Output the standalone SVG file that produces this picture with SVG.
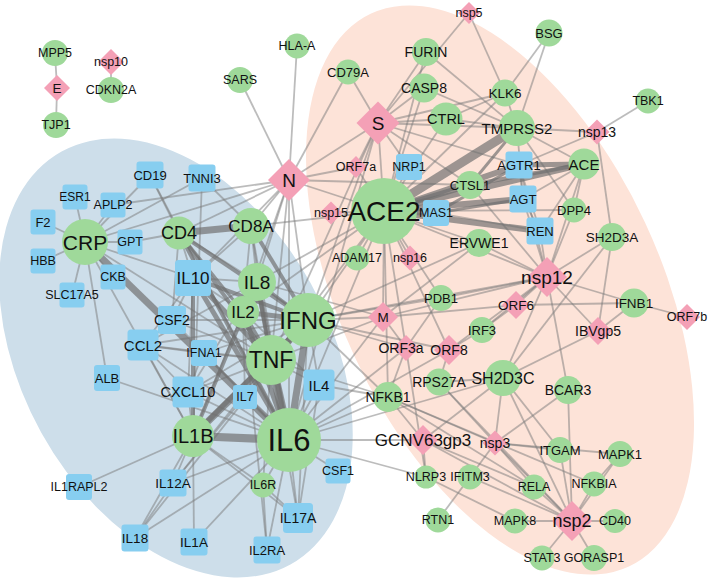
<svg xmlns="http://www.w3.org/2000/svg" width="708" height="579" viewBox="0 0 708 579">
<style>
.c{fill:#9fd99a}
.d{fill:#f4a0b6}
.b{fill:#87cef0}
text{font-family:"Liberation Sans",Arial,sans-serif;fill:#111;text-anchor:middle;dominant-baseline:central}
.e path{stroke:#7a7a7a;stroke-opacity:0.5;stroke-width:1.8;fill:none}
.w path{stroke:#6e6e6e;stroke-opacity:0.68;fill:none}
</style>
<rect width="708" height="579" fill="#fff"/>
<g id="clusters">
<ellipse cx="176" cy="358" rx="236" ry="154" transform="rotate(61 176 358)" fill="#cddeea"/>
<ellipse cx="500" cy="290" rx="305" ry="160" transform="rotate(65 500 290)" fill="#fde3d8"/>
</g>
<g id="connectors">
<g class="e">
<path d="M55 53L57 88"/><path d="M57 88L56 125"/><path d="M111 62L111 90"/>
<path d="M289 180L240 80"/><path d="M289 180L297 46"/><path d="M289 180L348 72"/><path d="M289 180L378 123"/><path d="M289 180L384 211"/><path d="M289 180L356 167"/><path d="M289 180L251 226"/><path d="M289 180L179 233"/><path d="M289 180L257 282"/><path d="M289 180L308 320"/><path d="M289 180L289 440"/><path d="M289 180L271 360"/><path d="M289 180L85 242"/><path d="M289 180L113 205"/><path d="M289 180L193 278"/><path d="M289 180L243 312"/><path d="M289 180L470 185"/>
<path d="M378 123L348 72"/><path d="M378 123L424 88"/><path d="M378 123L426 52"/><path d="M378 123L446 119"/><path d="M378 123L517 128"/><path d="M378 123L384 211"/><path d="M378 123L505 93"/><path d="M378 123L469 13"/><path d="M378 123L409 167"/><path d="M378 123L356 167"/><path d="M378 123L470 185"/><path d="M378 123L519 165"/><path d="M378 123L289 440"/><path d="M378 123L308 320"/><path d="M378 123L271 360"/>
<path d="M424 88L384 211"/><path d="M424 88L517 128"/><path d="M426 52L384 211"/><path d="M426 52L517 128"/><path d="M446 119L384 211"/><path d="M446 119L517 128"/><path d="M446 119L505 93"/><path d="M505 93L549 33"/><path d="M505 93L469 13"/><path d="M505 93L517 128"/><path d="M505 93L384 211"/><path d="M549 33L517 128"/><path d="M648 101L597 132"/><path d="M597 132L517 128"/><path d="M597 132L519 165"/><path d="M597 132L612 237"/><path d="M517 128L584 164"/><path d="M517 128L574 210"/><path d="M517 128L523 199"/>
<path d="M384 211L409 167" stroke-width="3"/><path d="M384 211L356 167"/><path d="M384 211L331 213"/><path d="M384 211L410 258"/><path d="M384 211L357 258"/><path d="M384 211L574 210"/><path d="M384 211L479 243"/><path d="M384 211L547 277"/><path d="M384 211L383 317"/><path d="M384 211L441 298"/><path d="M384 211L449 350"/><path d="M384 211L406 348"/><path d="M384 211L289 440"/><path d="M384 211L271 360"/><path d="M384 211L308 320"/><path d="M384 211L257 282"/><path d="M384 211L251 226"/><path d="M384 211L243 312"/><path d="M384 211L388 397"/>
<path d="M584 164L574 210"/><path d="M584 164L547 277"/><path d="M584 164L540 231" stroke-width="3"/><path d="M584 164L523 199" stroke-width="3"/><path d="M519 165L523 199"/><path d="M519 165L540 231"/><path d="M519 165L547 277"/><path d="M523 199L540 231"/><path d="M523 199L547 277"/><path d="M540 231L547 277"/><path d="M574 210L547 277"/><path d="M612 237L547 277"/><path d="M612 237L598 331"/><path d="M612 237L503 378"/><path d="M470 185L547 277"/><path d="M479 243L547 277"/><path d="M479 243L383 317"/><path d="M479 243L308 320"/><path d="M436 213L540 231"/>
<path d="M547 277L516 305"/><path d="M547 277L482 330"/><path d="M547 277L503 378"/><path d="M547 277L568 390"/><path d="M547 277L598 331"/><path d="M547 277L634 303"/><path d="M547 277L383 317"/><path d="M547 277L441 298"/><path d="M547 277L449 350"/><path d="M547 277L308 320"/>
<path d="M516 305L482 330"/><path d="M516 305L634 303"/><path d="M516 305L383 317"/><path d="M634 303L687 317"/><path d="M634 303L598 331"/><path d="M598 331L503 378"/><path d="M482 330L449 350"/>
<path d="M383 317L308 320"/><path d="M383 317L289 440"/><path d="M383 317L271 360"/><path d="M383 317L257 282"/><path d="M383 317L406 348"/><path d="M441 298L406 348"/><path d="M441 298L308 320"/><path d="M406 348L308 320"/><path d="M406 348L426 477"/><path d="M406 348L388 397"/><path d="M406 348L289 440"/><path d="M449 350L308 320"/><path d="M449 350L439 382"/><path d="M449 350L289 440"/>
<path d="M439 382L495 443"/><path d="M439 382L572 521"/><path d="M439 382L503 378"/><path d="M503 378L495 443"/><path d="M503 378L572 521"/><path d="M503 378L560 450"/><path d="M503 378L423 440"/><path d="M503 378L289 440"/><path d="M568 390L495 443"/><path d="M568 390L572 521"/>
<path d="M388 397L289 440"/><path d="M388 397L271 360"/><path d="M388 397L308 320"/><path d="M388 397L319 385"/><path d="M388 397L495 443"/><path d="M388 397L534 487"/><path d="M388 397L423 440"/><path d="M388 397L594 484"/>
<path d="M423 440L289 440"/><path d="M423 440L426 477"/><path d="M423 440L572 521"/><path d="M423 440L534 487"/>
<path d="M495 443L560 450"/><path d="M495 443L572 521"/><path d="M495 443L534 487"/><path d="M495 443L470 477"/><path d="M495 443L620 454"/>
<path d="M426 477L289 440"/><path d="M426 477L515 521"/><path d="M470 477L438 520"/><path d="M470 477L572 521"/>
<path d="M534 487L572 521"/><path d="M594 484L572 521" stroke-width="3"/><path d="M620 454L572 521"/><path d="M515 521L572 521"/><path d="M615 521L572 521"/><path d="M542 558L572 521"/><path d="M594 558L572 521"/><path d="M560 450L572 521"/><path d="M620 454L594 484"/>
<path d="M85 242L75 197"/><path d="M85 242L113 205"/><path d="M85 242L43 222"/><path d="M85 242L43 261"/><path d="M85 242L130 242"/><path d="M85 242L113 277"/><path d="M85 242L72 295"/><path d="M85 242L107 378" stroke-width="3"/><path d="M85 242L202 178"/><path d="M85 242L150 175"/><path d="M85 242L193 436" stroke-width="3"/><path d="M85 242L271 360" stroke-width="3"/><path d="M85 242L193 278"/>
<path d="M130 242L179 233"/><path d="M150 175L179 233"/><path d="M150 175L289 440"/><path d="M202 178L193 436"/><path d="M202 178L251 226"/>
<path d="M179 233L193 278"/><path d="M179 233L257 282"/><path d="M179 233L172 320"/><path d="M251 226L257 282"/><path d="M251 226L243 312"/><path d="M251 226L271 360" stroke-width="3"/><path d="M251 226L289 440" stroke-width="2.5"/><path d="M251 226L193 278"/>
<path d="M193 278L257 282"/><path d="M193 278L243 312"/><path d="M193 278L172 320"/><path d="M193 278L143 345"/><path d="M193 278L188 392"/><path d="M257 282L243 312"/><path d="M257 282L143 345"/><path d="M257 282L188 392"/>
<path d="M243 312L319 385"/><path d="M243 312L193 436"/><path d="M243 312L245 397"/><path d="M243 312L267 550"/>
<path d="M308 320L319 385" stroke-width="3"/><path d="M308 320L188 392" stroke-width="3"/><path d="M308 320L143 345"/><path d="M308 320L172 320"/><path d="M308 320L173 483"/><path d="M308 320L135 538"/><path d="M308 320L298 518"/><path d="M308 320L203 353"/>
<path d="M271 360L319 385"/><path d="M271 360L143 345" stroke-width="3"/><path d="M271 360L188 392"/><path d="M271 360L245 397"/><path d="M271 360L298 518"/><path d="M271 360L263 485"/><path d="M271 360L172 320" stroke-width="3"/><path d="M271 360L203 353"/><path d="M271 360L173 483"/>
<path d="M193 436L79 487"/><path d="M193 436L173 483"/><path d="M193 436L194 542"/><path d="M193 436L135 538"/><path d="M193 436L188 392" stroke-width="3"/><path d="M193 436L143 345" stroke-width="3"/><path d="M193 436L298 518"/><path d="M193 436L263 485"/>
<path d="M289 440L263 485"/><path d="M289 440L298 518" stroke-width="3"/><path d="M289 440L267 550" stroke-width="3"/><path d="M289 440L338 471"/><path d="M289 440L319 385" stroke-width="3"/><path d="M289 440L245 397"/><path d="M289 440L173 483"/><path d="M289 440L135 538"/><path d="M289 440L194 542"/><path d="M289 440L143 345" stroke-width="3"/><path d="M289 440L188 392" stroke-width="3"/><path d="M289 440L172 320" stroke-width="3"/><path d="M289 440L203 353"/><path d="M289 440L107 378"/>
<path d="M263 485L298 518"/><path d="M263 485L267 550"/><path d="M173 483L135 538"/><path d="M143 345L188 392"/><path d="M143 345L203 353"/><path d="M172 320L143 345"/><path d="M203 353L188 392"/><path d="M319 385L298 518"/>
</g>
<g class="w">
<path d="M384 211L517 128" stroke-width="9"/><path d="M384 211L470 185" stroke-width="6"/><path d="M384 211L519 165" stroke-width="6"/><path d="M384 211L584 164" stroke-width="6"/><path d="M384 211L523 199" stroke-width="6"/><path d="M384 211L540 231" stroke-width="6"/><path d="M384 211L436 213" stroke-width="6"/>
<path d="M519 165L584 164" stroke-width="5"/><path d="M470 185L584 164" stroke-width="4"/><path d="M436 213L523 199" stroke-width="3"/><path d="M436 213L519 165" stroke-width="3"/><path d="M470 185L517 128" stroke-width="3"/>
<path d="M179 233L251 226" stroke-width="7"/><path d="M179 233L308 320" stroke-width="4"/><path d="M179 233L243 312" stroke-width="3"/><path d="M179 233L289 440" stroke-width="4"/><path d="M179 233L271 360" stroke-width="4"/><path d="M251 226L308 320" stroke-width="4"/>
<path d="M193 278L289 440" stroke-width="5"/><path d="M193 278L271 360" stroke-width="5"/><path d="M193 278L308 320" stroke-width="4"/><path d="M193 278L193 436" stroke-width="4"/>
<path d="M257 282L289 440" stroke-width="5"/><path d="M257 282L271 360" stroke-width="4"/><path d="M257 282L193 436" stroke-width="4"/><path d="M257 282L308 320" stroke-width="3"/>
<path d="M243 312L308 320" stroke-width="5"/><path d="M243 312L289 440" stroke-width="5"/><path d="M243 312L271 360" stroke-width="4"/>
<path d="M308 320L271 360" stroke-width="7"/><path d="M308 320L289 440" stroke-width="7"/><path d="M308 320L193 436" stroke-width="5"/><path d="M271 360L289 440" stroke-width="9"/><path d="M271 360L193 436" stroke-width="7"/><path d="M193 436L289 440" stroke-width="8"/><path d="M85 242L289 440" stroke-width="7"/>
</g>
</g>
<g id="nodes">
<g id="n-MPP5" transform="translate(55,53)"><circle class="c" r="13"/><text font-size="12.5">MPP5</text></g>
<g id="n-E" transform="translate(57,88)"><polygon class="d" points="0,-13 13,0 0,13 -13,0"/><text font-size="13.5">E</text></g>
<g id="n-TJP1" transform="translate(56,125)"><circle class="c" r="13"/><text font-size="12.5">TJP1</text></g>
<g id="n-nsp10" transform="translate(111,62)"><polygon class="d" points="0,-13 13,0 0,13 -13,0"/><text font-size="12.5">nsp10</text></g>
<g id="n-CDKN2A" transform="translate(111,90)"><circle class="c" r="13"/><text font-size="12.5">CDKN2A</text></g>
<g id="n-SARS" transform="translate(240,80)"><circle class="c" r="13"/><text font-size="12.5">SARS</text></g>
<g id="n-HLA-A" transform="translate(297,46)"><circle class="c" r="12.5"/><text font-size="12.5">HLA-A</text></g>
<g id="n-CD79A" transform="translate(348,72)"><circle class="c" r="12.5"/><text font-size="13">CD79A</text></g>
<g id="n-FURIN" transform="translate(426,52)"><circle class="c" r="14"/><text font-size="14">FURIN</text></g>
<g id="n-CASP8" transform="translate(424,88)"><circle class="c" r="14.5"/><text font-size="14">CASP8</text></g>
<g id="n-S" transform="translate(378,123)"><polygon class="d" points="0,-21.5 21.5,0 0,21.5 -21.5,0"/><text font-size="19">S</text></g>
<g id="n-CTRL" transform="translate(446,119)"><circle class="c" r="16.5"/><text font-size="14.5">CTRL</text></g>
<g id="n-nsp5" transform="translate(469,13)"><polygon class="d" points="0,-11 11,0 0,11 -11,0"/><text font-size="12.5">nsp5</text></g>
<g id="n-BSG" transform="translate(549,33)"><circle class="c" r="13.5"/><text font-size="13">BSG</text></g>
<g id="n-KLK6" transform="translate(505,93)"><circle class="c" r="13.5"/><text font-size="13.5">KLK6</text></g>
<g id="n-TMPRSS2" transform="translate(517,128)"><circle class="c" r="18"/><text font-size="15">TMPRSS2</text></g>
<g id="n-TBK1" transform="translate(648,101)"><circle class="c" r="12.5"/><text font-size="12.5">TBK1</text></g>
<g id="n-nsp13" transform="translate(597,132)"><polygon class="d" points="0,-12.5 12.5,0 0,12.5 -12.5,0"/><text font-size="14">nsp13</text></g>
<g id="n-N" transform="translate(289,180)"><polygon class="d" points="0,-21 21,0 0,21 -21,0"/><text font-size="19">N</text></g>
<g id="n-ORF7a" transform="translate(356,167)"><polygon class="d" points="0,-11 11,0 0,11 -11,0"/><text font-size="12.5">ORF7a</text></g>
<g id="n-NRP1" transform="translate(409,167)"><rect class="b" x="-13" y="-13" width="26" height="26" rx="3"/><text font-size="12.5">NRP1</text></g>
<g id="n-ACE2" transform="translate(384,211)"><circle class="c" r="33"/><text font-size="28">ACE2</text></g>
<g id="n-nsp15" transform="translate(331,213)"><polygon class="d" points="0,-11.5 11.5,0 0,11.5 -11.5,0"/><text font-size="12.5">nsp15</text></g>
<g id="n-MAS1" transform="translate(436,213)"><rect class="b" x="-13" y="-13" width="26" height="26" rx="3"/><text font-size="12.5">MAS1</text></g>
<g id="n-CTSL1" transform="translate(470,185)"><circle class="c" r="14"/><text font-size="13">CTSL1</text></g>
<g id="n-AGTR1" transform="translate(519,165)"><rect class="b" x="-13.5" y="-13.5" width="27" height="27" rx="3"/><text font-size="13">AGTR1</text></g>
<g id="n-ACE" transform="translate(584,164)"><circle class="c" r="15.5"/><text font-size="15">ACE</text></g>
<g id="n-AGT" transform="translate(523,199)"><rect class="b" x="-13.5" y="-13.5" width="27" height="27" rx="3"/><text font-size="13">AGT</text></g>
<g id="n-DPP4" transform="translate(574,210)"><circle class="c" r="12.5"/><text font-size="13">DPP4</text></g>
<g id="n-REN" transform="translate(540,231)"><rect class="b" x="-13.5" y="-13.5" width="27" height="27" rx="3"/><text font-size="13">REN</text></g>
<g id="n-SH2D3A" transform="translate(612,237)"><circle class="c" r="14"/><text font-size="13.5">SH2D3A</text></g>
<g id="n-ERVWE1" transform="translate(479,243)"><circle class="c" r="14"/><text font-size="14">ERVWE1</text></g>
<g id="n-ADAM17" transform="translate(357,258)"><circle class="c" r="12.5"/><text font-size="12.5">ADAM17</text></g>
<g id="n-nsp16" transform="translate(410,258)"><polygon class="d" points="0,-12.5 12.5,0 0,12.5 -12.5,0"/><text font-size="12.5">nsp16</text></g>
<g id="n-nsp12" transform="translate(547,277)"><polygon class="d" points="0,-20 20,0 0,20 -20,0"/><text font-size="19">nsp12</text></g>
<g id="n-CD19" transform="translate(150,175)"><rect class="b" x="-13.5" y="-13.5" width="27" height="27" rx="3"/><text font-size="13">CD19</text></g>
<g id="n-TNNI3" transform="translate(202,178)"><rect class="b" x="-13.5" y="-13.5" width="27" height="27" rx="3"/><text font-size="13">TNNI3</text></g>
<g id="n-ESR1" transform="translate(75,197)"><rect class="b" x="-12.5" y="-12.5" width="25" height="25" rx="3"/><text font-size="12">ESR1</text></g>
<g id="n-APLP2" transform="translate(113,205)"><rect class="b" x="-12.5" y="-12.5" width="25" height="25" rx="3"/><text font-size="12.5">APLP2</text></g>
<g id="n-F2" transform="translate(43,222)"><rect class="b" x="-12.5" y="-12.5" width="25" height="25" rx="3"/><text font-size="13">F2</text></g>
<g id="n-CRP" transform="translate(85,242)"><circle class="c" r="23"/><text font-size="21">CRP</text></g>
<g id="n-GPT" transform="translate(130,242)"><rect class="b" x="-12.5" y="-12.5" width="25" height="25" rx="3"/><text font-size="12.5">GPT</text></g>
<g id="n-CD4" transform="translate(179,233)"><circle class="c" r="16.5"/><text font-size="18">CD4</text></g>
<g id="n-CD8A" transform="translate(251,226)"><circle class="c" r="18"/><text font-size="17">CD8A</text></g>
<g id="n-HBB" transform="translate(43,261)"><rect class="b" x="-12.5" y="-12.5" width="25" height="25" rx="3"/><text font-size="12.5">HBB</text></g>
<g id="n-CKB" transform="translate(113,277)"><rect class="b" x="-12.5" y="-12.5" width="25" height="25" rx="3"/><text font-size="12.5">CKB</text></g>
<g id="n-IL10" transform="translate(193,278)"><rect class="b" x="-18" y="-18" width="36" height="36" rx="3.5"/><text font-size="17">IL10</text></g>
<g id="n-SLC17A5" transform="translate(72,295)"><rect class="b" x="-12.5" y="-12.5" width="25" height="25" rx="3"/><text font-size="12.5">SLC17A5</text></g>
<g id="n-IL8" transform="translate(257,282)"><circle class="c" r="19"/><text font-size="19">IL8</text></g>
<g id="n-IL2" transform="translate(243,312)"><circle class="c" r="16"/><text font-size="17">IL2</text></g>
<g id="n-CSF2" transform="translate(172,320)"><rect class="b" x="-14" y="-14" width="28" height="28" rx="3"/><text font-size="14">CSF2</text></g>
<g id="n-CCL2" transform="translate(143,345)"><rect class="b" x="-15.5" y="-15.5" width="31" height="31" rx="3.5"/><text font-size="15">CCL2</text></g>
<g id="n-IFNA1" transform="translate(204,353)"><rect class="b" x="-13" y="-13" width="26" height="26" rx="3"/><text font-size="12.5">IFNA1</text></g>
<g id="n-ALB" transform="translate(107,378)"><rect class="b" x="-13" y="-13" width="26" height="26" rx="3"/><text font-size="13">ALB</text></g>
<g id="n-CXCL10" transform="translate(188,392)"><rect class="b" x="-15.5" y="-15.5" width="31" height="31" rx="3.5"/><text font-size="14.5">CXCL10</text></g>
<g id="n-IL7" transform="translate(245,397)"><rect class="b" x="-12" y="-12" width="24" height="24" rx="3"/><text font-size="12.5">IL7</text></g>
<g id="n-IL4" transform="translate(319,385)"><rect class="b" x="-15.5" y="-15.5" width="31" height="31" rx="3.5"/><text font-size="15">IL4</text></g>
<g id="n-IFNG" transform="translate(308,320)"><circle class="c" r="27"/><text font-size="24">IFNG</text></g>
<g id="n-TNF" transform="translate(271,360)"><circle class="c" r="25"/><text font-size="23">TNF</text></g>
<g id="n-IL1B" transform="translate(193,436)"><circle class="c" r="21"/><text font-size="20">IL1B</text></g>
<g id="n-IL6" transform="translate(289,440)"><circle class="c" r="32"/><text font-size="31">IL6</text></g>
<g id="n-CSF1" transform="translate(338,471)"><rect class="b" x="-12.5" y="-12.5" width="25" height="25" rx="3"/><text font-size="12.5">CSF1</text></g>
<g id="n-IL6R" transform="translate(263,485)"><circle class="c" r="12.5"/><text font-size="12.5">IL6R</text></g>
<g id="n-IL1RAPL2" transform="translate(79,487)"><rect class="b" x="-13" y="-13" width="26" height="26" rx="3"/><text font-size="12.5">IL1RAPL2</text></g>
<g id="n-IL12A" transform="translate(173,483)"><rect class="b" x="-13.5" y="-13.5" width="27" height="27" rx="3"/><text font-size="13.5">IL12A</text></g>
<g id="n-IL17A" transform="translate(298,518)"><rect class="b" x="-15" y="-15" width="30" height="30" rx="3.5"/><text font-size="14">IL17A</text></g>
<g id="n-IL2RA" transform="translate(267,550)"><rect class="b" x="-13.5" y="-13.5" width="27" height="27" rx="3"/><text font-size="13">IL2RA</text></g>
<g id="n-IL18" transform="translate(135,538)"><rect class="b" x="-13.5" y="-13.5" width="27" height="27" rx="3"/><text font-size="13.5">IL18</text></g>
<g id="n-IL1A" transform="translate(194,542)"><rect class="b" x="-13.5" y="-13.5" width="27" height="27" rx="3"/><text font-size="13.5">IL1A</text></g>
<g id="n-M" transform="translate(383,317)"><polygon class="d" points="0,-15 15,0 0,15 -15,0"/><text font-size="13.5">M</text></g>
<g id="n-PDB1" transform="translate(441,298)"><circle class="c" r="13"/><text font-size="13">PDB1</text></g>
<g id="n-ORF6" transform="translate(516,305)"><polygon class="d" points="0,-14 14,0 0,14 -14,0"/><text font-size="13.5">ORF6</text></g>
<g id="n-IFNB1" transform="translate(634,303)"><circle class="c" r="14.5"/><text font-size="13.5">IFNB1</text></g>
<g id="n-ORF7b" transform="translate(687,317)"><polygon class="d" points="0,-13 13,0 0,13 -13,0"/><text font-size="12.5">ORF7b</text></g>
<g id="n-IRF3" transform="translate(482,330)"><circle class="c" r="13"/><text font-size="13">IRF3</text></g>
<g id="n-IBVgp5" transform="translate(598,331)"><polygon class="d" points="0,-14 14,0 0,14 -14,0"/><text font-size="14">IBVgp5</text></g>
<g id="n-ORF3a" transform="translate(406,348)"><polygon class="d" points="0,-13 13,0 0,13 -13,0"/><text x="-5" font-size="14">ORF3a</text></g>
<g id="n-ORF8" transform="translate(449,350)"><polygon class="d" points="0,-15 15,0 0,15 -15,0"/><text font-size="14">ORF8</text></g>
<g id="n-RPS27A" transform="translate(439,382)"><circle class="c" r="13.5"/><text font-size="14">RPS27A</text></g>
<g id="n-SH2D3C" transform="translate(503,378)"><circle class="c" r="18"/><text font-size="16">SH2D3C</text></g>
<g id="n-BCAR3" transform="translate(568,390)"><circle class="c" r="14"/><text font-size="14">BCAR3</text></g>
<g id="n-NFKB1" transform="translate(388,397)"><circle class="c" r="15"/><text font-size="14">NFKB1</text></g>
<g id="n-GCNV63gp3" transform="translate(423,440)"><polygon class="d" points="0,-15 15,0 0,15 -15,0"/><text font-size="17">GCNV63gp3</text></g>
<g id="n-nsp3" transform="translate(495,443)"><polygon class="d" points="0,-12.5 12.5,0 0,12.5 -12.5,0"/><text font-size="14">nsp3</text></g>
<g id="n-ITGAM" transform="translate(560,450)"><circle class="c" r="13"/><text font-size="13">ITGAM</text></g>
<g id="n-MAPK1" transform="translate(620,454)"><circle class="c" r="13"/><text font-size="13">MAPK1</text></g>
<g id="n-NLRP3" transform="translate(426,477)"><circle class="c" r="11.5"/><text font-size="12.5">NLRP3</text></g>
<g id="n-IFITM3" transform="translate(470,477)"><circle class="c" r="12.5"/><text font-size="12.5">IFITM3</text></g>
<g id="n-RELA" transform="translate(534,487)"><circle class="c" r="12.5"/><text font-size="12.5">RELA</text></g>
<g id="n-NFKBIA" transform="translate(594,484)"><circle class="c" r="12.5"/><text font-size="12.5">NFKBIA</text></g>
<g id="n-RTN1" transform="translate(438,520)"><circle class="c" r="12.5"/><text font-size="12.5">RTN1</text></g>
<g id="n-MAPK8" transform="translate(515,521)"><circle class="c" r="12.5"/><text font-size="12.5">MAPK8</text></g>
<g id="n-nsp2" transform="translate(572,521)"><polygon class="d" points="0,-20 20,0 0,20 -20,0"/><text font-size="18">nsp2</text></g>
<g id="n-CD40" transform="translate(615,521)"><circle class="c" r="12"/><text font-size="12.5">CD40</text></g>
<g id="n-STAT3" transform="translate(542,558)"><circle class="c" r="12.5"/><text font-size="12.5">STAT3</text></g>
<g id="n-GORASP1" transform="translate(594,558)"><circle class="c" r="13"/><text font-size="12.5">GORASP1</text></g>
</g>
</svg>
